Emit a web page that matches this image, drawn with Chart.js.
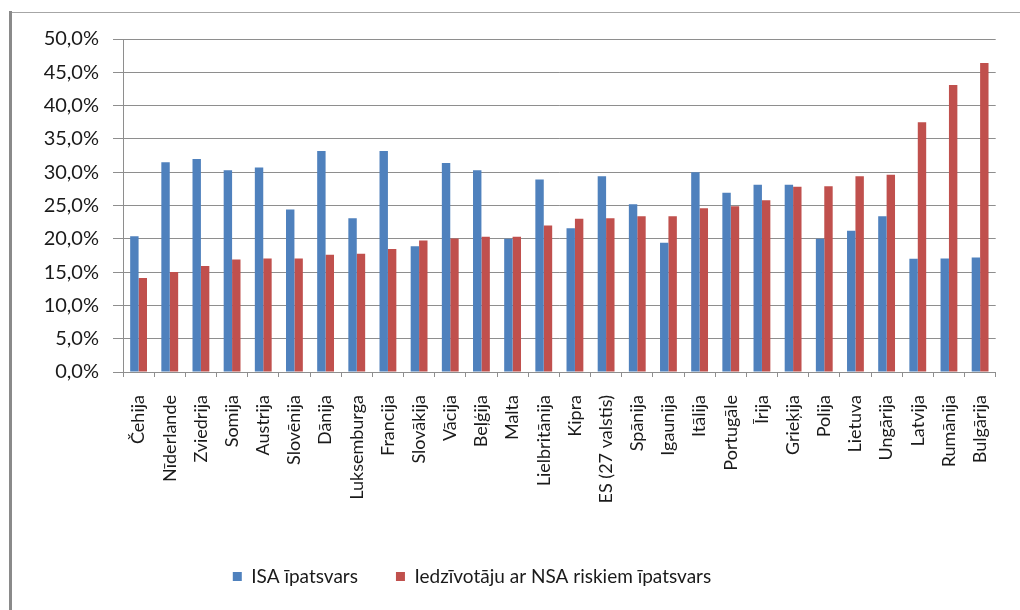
<!DOCTYPE html>
<html>
<head>
<meta charset="utf-8">
<script src="https://cdn.jsdelivr.net/npm/chart.js@4/dist/chart.umd.min.js"></script>
<style>
  html, body { margin: 0; padding: 0; background: #ffffff; }
  canvas { display: block; }
</style>
</head>
<body>
<canvas id="c" width="1020" height="610"></canvas>
<script>
// Countries, ordered by the share of residents at risk
const countries = [
  'Čehija', 'Nīderlande', 'Zviedrija', 'Somija', 'Austrija', 'Slovēnija', 'Dānija',
  'Luksemburga', 'Francija', 'Slovākija', 'Vācija', 'Beļģija', 'Malta', 'Lielbritānija',
  'Kipra', 'ES (27 valstis)', 'Spānija', 'Igaunija', 'Itālija', 'Portugāle', 'Īrija',
  'Grieķija', 'Polija', 'Lietuva', 'Ungārija', 'Latvija', 'Rumānija', 'Bulgārija'
];

// ISA īpatsvars, %
const isaShare = [
  20.4, 31.5, 32.0, 30.3, 30.7, 24.4, 33.2,
  23.1, 33.2, 18.9, 31.4, 30.3, 20.0, 28.9,
  21.6, 29.4, 25.2, 19.4, 30.0, 26.9, 28.1,
  28.1, 20.0, 21.2, 23.4, 17.0, 17.05, 17.2
];

// Iedzīvotāju ar NSA riskiem īpatsvars, %
const riskShare = [
  14.1, 15.0, 15.9, 16.9, 17.05, 17.05, 17.6,
  17.75, 18.45, 19.75, 20.06, 20.3, 20.3, 22.0,
  23.0, 23.1, 23.4, 23.4, 24.6, 24.9, 25.8,
  27.8, 27.9, 29.4, 29.6, 37.5, 43.1, 46.4
];

const seriesLabels = ['ISA īpatsvars', 'Iedzīvotāju ar NSA riskiem īpatsvars'];
const yTicks = { min: 0, max: 50, step: 5 };

const FONT = 'Lato, "Noto Sans", sans-serif';
const GRID = '#8e8e8e';

// Thin outer frame: top rule and heavier left rule
const framePlugin = {
  id: 'frame',
  beforeDraw(chart) {
    const ctx = chart.ctx;
    ctx.save();
    ctx.fillStyle = '#ffffff';
    ctx.fillRect(0, 0, chart.width, chart.height);
    ctx.strokeStyle = '#a6a6a6';
    ctx.lineWidth = 1;
    ctx.beginPath();
    ctx.moveTo(10, 12.5);
    ctx.lineTo(chart.width, 12.5);
    ctx.stroke();
    ctx.strokeStyle = '#8a8a8a';
    ctx.lineWidth = 3;
    ctx.beginPath();
    ctx.moveTo(10.5, 11);
    ctx.lineTo(10.5, chart.height);
    ctx.stroke();
    ctx.restore();
  }
};

// Nudge the legend row a little left of the canvas centre
const legendShift = {
  id: 'legendShift',
  afterLayout(chart) {
    if (chart.legend) chart.legend.right -= 60;
  }
};

new Chart(document.getElementById('c'), {
  type: 'bar',
  data: {
    labels: countries,
    datasets: [
      { label: seriesLabels[0], data: isaShare, backgroundColor: '#4f81bd' },
      { label: seriesLabels[1], data: riskShare, backgroundColor: '#c0504d' }
    ]
  },
  options: {
    responsive: false,
    animation: false,
    layout: { padding: { top: 39, right: 16, bottom: 14, left: 0 } },
    datasets: { bar: { categoryPercentage: 0.54, barPercentage: 1.0 } },
    scales: {
      x: {
        grid: { drawOnChartArea: false, drawTicks: true, tickLength: 5, color: GRID, offset: true },
        border: { display: true, color: GRID },
        ticks: {
          minRotation: 90, maxRotation: 90, autoSkip: false, padding: 18,
          color: '#1a1a1a', font: { family: FONT, size: 18 }
        },
        afterFit(scale) { scale.height = 157; }
      },
      y: {
        min: yTicks.min, max: yTicks.max,
        grid: { color: GRID, tickLength: 10, drawTicks: true },
        border: { display: true, color: GRID },
        ticks: {
          stepSize: yTicks.step, padding: 14,
          color: '#1a1a1a', font: { family: FONT, size: 20 },
          callback: v => v.toFixed(1).replace('.', ',') + '%'
        },
        afterFit(scale) { scale.width = 123; }
      }
    },
    plugins: {
      legend: {
        position: 'bottom',
        labels: {
          boxWidth: 9, boxHeight: 9, padding: 38,
          color: '#1a1a1a', font: { family: FONT, size: 19 }
        }
      },
      tooltip: { enabled: false }
    }
  },
  plugins: [framePlugin, legendShift]
});
</script>
</body>
</html>
